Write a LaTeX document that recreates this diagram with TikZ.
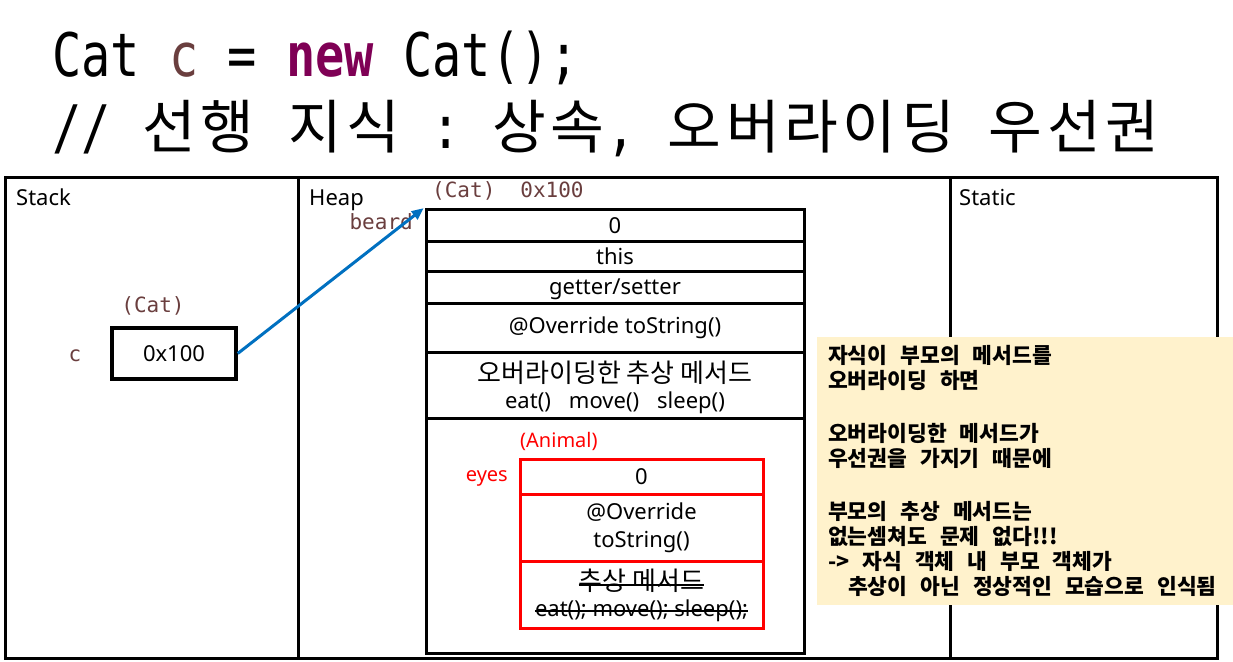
\documentclass[tikz,border=0pt]{standalone}
\usepackage{graphicx}
\usepackage{fontspec}
\usetikzlibrary{arrows.meta}
\setmainfont{Noto Sans}
\newfontfamily\krf{Noto Sans CJK KR}
\newfontfamily\monof{DejaVu Sans Mono}
\definecolor{varbrown}{HTML}{6A3E3E}
\definecolor{kwpurple}{HTML}{7F0055}
\definecolor{refblue}{HTML}{0070C0}
\definecolor{notefill}{HTML}{FFF2CC}
\newcommand\mch[1]{\makebox[29.2pt][c]{\scalebox{0.81}[1]{\monof\fontsize{60}{60}\selectfont #1}}}
\newcommand\kch[1]{\makebox[58.4pt][c]{\krf\fontsize{58.4}{60}\selectfont #1}}
\newcommand\hsp{\hspace*{29.2pt}}
\tikzset{
  frameline/.style={line width=3pt},
  cell/.style={draw, line width=3pt, minimum width=378pt, inner sep=0pt},
  redcell/.style={draw=red, line width=3pt, minimum width=243pt, inner sep=0pt},
  body/.style={font=\fontsize{22}{26}\selectfont, inner sep=0pt},
  kbody/.style={font=\krf\fontsize{26}{28}\selectfont, inner sep=0pt},
  monolbl/.style={font=\monof\fontsize{21}{24}\selectfont, text=varbrown, inner sep=0pt},
  redlbl/.style={font=\fontsize{20}{24}\selectfont, text=red, inner sep=0pt},
  strikeline/.style={line width=1.5pt},
}
\begin{document}
\begin{tikzpicture}[x=1pt,y=-1pt]
\useasboundingbox (0,0) rectangle (1233,661);

% title
\node[anchor=base west, inner sep=0] (t1) at (52,77)
  {\scalebox{0.81}[1]{\monof\fontsize{60}{60}\selectfont Cat \textcolor{varbrown}{c} = \textcolor{kwpurple}{\bfseries new} Cat();}};
\node[anchor=base west, inner sep=0] (t2) at (52,148)
  {\mch{/}\mch{/}\hsp\kch{선}\kch{행}\hsp\kch{지}\kch{식}\hsp\mch{:}\hsp\kch{상}\kch{속}\mch{,}\hsp\kch{오}\kch{버}\kch{라}\kch{이}\kch{딩}\hsp\kch{우}\kch{선}\kch{권}};

% frame
\draw[frameline] (5,177) rectangle (1217,658);
\draw[frameline] (298,177) -- (298,658);
\draw[frameline] (950,177) -- (950,658);
\node[body, anchor=base west] (stacklbl) at (16,205) {Stack};
\node[body, anchor=base west] (heaplbl) at (309,205) {Heap};
\node[body, anchor=base west] (staticlbl) at (959,205) {Static};

% stack
\node[monolbl] (cattype) at (153,306) {(Cat)};
\node[monolbl] (cvar) at (75,356) {c};
\node[draw, line width=3.5pt, minimum width=124pt, minimum height=51pt, body] (cbox) at (174,353.5) {0x100};

% heap object
\node[monolbl, anchor=west] (objlbl) at (432,191) {(Cat)\hspace{25pt}0x100};
\node[monolbl, anchor=east] (beard) at (413,222) {beard};
\node[cell, minimum height=32pt] (r1) at (615,225) {};
\node[body] (r1t) at (615,226) {0};
\node[cell, minimum height=30pt, body] (r2) at (615,256) {this};
\node[cell, minimum height=32pt] (r3) at (615,287) {};
\node[body] (r3t) at (615,289) {getter/setter};
\node[cell, minimum height=49pt, body] (r4) at (615,327.5) {@Override toString()};
\node[cell, minimum height=66pt] (r5) at (615,385) {};
\node[kbody] (k5) at (615,373) {오버라이딩한 추상 메서드};
\node[body] (e5) at (615,403) {eat()\hspace{18pt}move()\hspace{18pt}sleep()};
\node[cell, minimum height=235pt] (r6) at (615,535.5) {};

% parent object
\node[redlbl, anchor=west] (animallbl) at (520,441) {(Animal)};
\node[redlbl, anchor=east] (eyes) at (508,478) {eyes};
\node[redcell, minimum height=35pt, body] (a1) at (641.5,476.5) {0};
\node[redcell, minimum height=67pt, body, align=center, font=\fontsize{22}{28}\selectfont] (a2) at (641.5,527.5) {@Override\\toString()};
\node[redcell, minimum height=67pt] (a3) at (641.5,594.5) {};
\node[kbody] (s1) at (641.5,581) {추상 메서드};
\node[body] (s2) at (641.5,611) {eat(); move(); sleep();};
\draw[strikeline] ([yshift=-4pt]s1.west) -- ([yshift=-4pt]s1.east);
\draw[strikeline] (s2.west) -- (s2.east);

% reference arrow
\draw[refblue, line width=3pt, -{Triangle[length=12pt,width=10pt]}, shorten >=1pt] (cbox.east) -- (r1.north west);

% note
\node[fill=notefill, minimum width=416pt, minimum height=268pt, inner sep=0] (note) at (1025,471) {};
\node[anchor=north west, align=left, inner sep=0, font={\krf\bfseries\fontsize{21.5}{25}\selectfont\spaceskip=13pt\relax}] (notetext) at (828,345)
 {자식이 부모의 메서드를\\
  오버라이딩 하면\\[28pt]
  오버라이딩한 메서드가\\
  우선권을 가지기 때문에\\[28pt]
  부모의 추상 메서드는\\
  없는셈쳐도 문제 없다!!!\\
  -> 자식 객체 내 부모 객체가\\
  \hspace*{20pt}추상이 아닌 정상적인 모습으로 인식됨};
\end{tikzpicture}
\end{document}
